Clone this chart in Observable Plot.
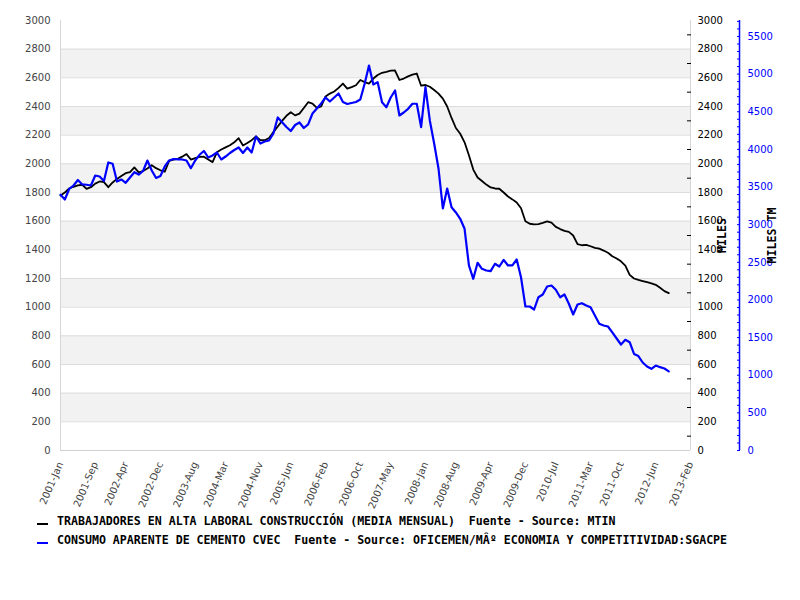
<!DOCTYPE html>
<html>
<head>
<meta charset="utf-8">
<script src="https://cdn.jsdelivr.net/npm/d3@7"></script>
<script src="https://cdn.jsdelivr.net/npm/@observablehq/plot@0.6"></script>
<style>
  body { margin: 0; background: #fff; }
  #wrap { position: relative; width: 800px; height: 600px; overflow: hidden; }
  #chart { position: absolute; left: 0; top: 0; }
  .legtxt { position: absolute; left: 57px; font: bold 11.6px "DejaVu Sans Mono", monospace; white-space: pre; color: #000; line-height: 14px; }
  .sw { position: absolute; left: 37px; width: 11px; height: 2px; }
</style>
</head>
<body>
<div id="wrap">
  <div id="chart"></div>
</div>
<script>
// ---- data ----
const startYear = 2001;
const monthNames = ["Jan","Feb","Mar","Apr","May","Jun","Jul","Aug","Sep","Oct","Nov","Dec"];
const xTickLabels = ["2001-Jan","2001-Sep","2002-Apr","2002-Dec","2003-Aug","2004-Mar","2004-Nov",
  "2005-Jun","2006-Feb","2006-Oct","2007-May","2008-Jan","2008-Aug","2009-Apr","2009-Dec",
  "2010-Jul","2011-Mar","2011-Oct","2012-Jun","2013-Feb"];

// Trabajadores en alta laboral construcción (miles), monthly from 2001-Jan
const blackSeries = [
  1779,1800,1828,1840,1849,1854,1825,1837,1862,1877,
  1872,1837,1870,1895,1915,1935,1942,1975,1940,1950,
  1968,1990,1970,1955,1945,2020,2030,2035,2050,2068,
  2030,2040,2048,2050,2030,2012,2080,2100,2115,2130,
  2150,2179,2128,2145,2165,2192,2165,2165,2180,2221,
  2260,2300,2335,2360,2338,2350,2390,2430,2420,2390,
  2400,2470,2490,2505,2530,2560,2525,2535,2548,2585,
  2570,2560,2595,2620,2635,2642,2650,2651,2585,2595,
  2610,2622,2630,2545,2550,2538,2515,2490,2455,2400,
  2320,2250,2210,2150,2060,1960,1905,1880,1855,1835,
  1828,1826,1800,1772,1752,1730,1690,1600,1582,1578,
  1580,1588,1598,1590,1560,1545,1532,1525,1500,1440,
  1432,1435,1425,1414,1408,1395,1380,1355,1340,1320,
  1290,1225,1200,1190,1182,1174,1166,1156,1135,1112,
  1098
];

// Consumo aparente de cemento (miles TM), monthly from 2001-Jan
const blueSeries = [
  3397,3334,3474,3520,3593,3534,3530,3520,3653,3640,
  3580,3826,3809,3573,3600,3556,3627,3697,3666,3713,
  3852,3720,3620,3647,3773,3852,3872,3866,3866,3852,
  3750,3852,3928,3979,3892,3919,3959,3866,3905,3952,
  3992,4025,3952,4025,3959,4171,4078,4105,4118,4211,
  4424,4361,4297,4244,4324,4357,4284,4331,4477,4543,
  4610,4689,4636,4689,4742,4630,4603,4616,4630,4663,
  4871,5114,4862,4893,4627,4560,4689,4782,4450,4490,
  4539,4606,4606,4295,4826,4384,4078,3746,3215,3480,
  3232,3162,3078,2945,2458,2281,2494,2414,2391,2382,
  2480,2444,2533,2458,2458,2537,2298,1913,1913,1873,
  2036,2072,2179,2192,2135,2036,2072,1949,1807,1939,
  1957,1926,1904,1793,1683,1661,1647,1568,1488,1408,
  1471,1439,1282,1255,1169,1116,1085,1129,1107,1089,
  1052
];

const leftTicks = [0,200,400,600,800,1000,1200,1400,1600,1800,2000,2200,2400,2600,2800,3000];
const rightMinorTicks = [100,300,500,700,900,1100,1300,1500,1700,1900,2100,2300,2500,2700,2900];
const gridTicks = [200,400,600,800,1000,1200,1400,1600,1800,2000,2200,2400,2600,2800];
const bandStarts = [200,600,1000,1400,1800,2200,2600];
const blueTicks = [0,500,1000,1500,2000,2500,3000,3500,4000,4500,5000,5500];
const blueMinorTicks = d3.range(0, 5701, 100);

const legendItems = [
  {color: "#000000", text: "TRABAJADORES EN ALTA LABORAL CONSTRUCCIÓN (MEDIA MENSUAL)  Fuente - Source: MTIN"},
  {color: "#0000ff", text: "CONSUMO APARENTE DE CEMENTO CVEC  Fuente - Source: OFICEMEN/MÂº ECONOMIA Y COMPETITIVIDAD:SGACPE"}
];
const axisTitleLeft = "MILES";
const axisTitleRight = "MILES TM";

// ---- scales / derived ----
const Y_MAX = 3000;
const BLUE_MAX = 5712;
const X_MAX = 145; // 2013-Feb
const toLeft = v => v * Y_MAX / BLUE_MAX;
const labelMonth = s => (+s.slice(0, 4) - startYear) * 12 + monthNames.indexOf(s.slice(5));
const xTickPos = xTickLabels.map(labelMonth);
const labelByPos = new Map(xTickLabels.map(s => [labelMonth(s), s]));
const plain = d => String(Math.round(d));

const blackRows = blackSeries.map((v, i) => ({m: i, v}));
const blueRows = blueSeries.map((v, i) => ({m: i, v}));

const chart = Plot.plot({
  width: 800,
  height: 500,
  marginTop: 20,
  marginBottom: 50,
  marginLeft: 60,
  marginRight: 110,
  style: {fontFamily: "'DejaVu Sans', sans-serif", fontSize: "10px", background: "transparent", overflow: "visible"},
  x: {domain: [0, X_MAX]},
  y: {domain: [0, Y_MAX]},
  marks: [
    Plot.rect(bandStarts, {y1: d => d, y2: d => d + 200, fill: "#f2f2f2"}),
    Plot.ruleY(gridTicks, {stroke: "#dcdcdc", strokeWidth: 1}),
    Plot.ruleY([0], {stroke: "#d0d0d0", strokeWidth: 1}),
    Plot.ruleX([0, X_MAX], {stroke: "#d6d6d6", strokeWidth: 1}),
    // left axis labels
    Plot.axisY(leftTicks, {anchor: "left", tickSize: 0, tickPadding: 10, fill: "#444", label: null, tickFormat: plain}),
    // right black axis
    Plot.axisY(rightMinorTicks, {anchor: "right", tickSize: 4, dx: -4, fill: "none", stroke: "#000", label: null}),
    Plot.axisY(leftTicks, {anchor: "right", tickSize: 0, tickPadding: 7, fill: "#000", label: null, tickFormat: plain}),
    // blue axis (secondary scale)
    Plot.ruleX([X_MAX], {dx: 49, stroke: "#0000ff", strokeWidth: 1.5}),
    Plot.axisY(blueMinorTicks.map(toLeft), {anchor: "right", tickSize: 3, dx: 46, fill: "none", stroke: "#0000ff", label: null}),
    Plot.axisY(blueTicks.map(toLeft), {anchor: "right", tickSize: 0, dx: 49, tickPadding: 8, fill: "#0000ff", label: null,
      tickFormat: d => plain(d * BLUE_MAX / Y_MAX)}),
    // x axis
    Plot.axisX(xTickPos, {anchor: "bottom", tickSize: 0, tickPadding: 12, tickRotate: -67, textAnchor: "end",
      fill: "#444", label: null, tickFormat: d => labelByPos.get(d)}),
    // axis titles
    Plot.text([axisTitleLeft], {frameAnchor: "right", text: d => d, rotate: -90, dx: 32, textAnchor: "middle",
      fontFamily: "'DejaVu Sans Mono', monospace", fontWeight: "bold", fontSize: 11.6, fill: "#000"}),
    Plot.text([axisTitleRight], {frameAnchor: "right", text: d => d, rotate: -90, dx: 82, textAnchor: "middle",
      fontFamily: "'DejaVu Sans Mono', monospace", fontWeight: "bold", fontSize: 11.6, fill: "#000"}),
    // series
    Plot.line(blackRows, {x: "m", y: "v", stroke: "#000", strokeWidth: 1.8}),
    Plot.line(blueRows, {x: "m", y: d => toLeft(d.v), stroke: "#0000ff", strokeWidth: 2.2})
  ]
});
document.getElementById("chart").appendChild(chart);

const wrap = document.getElementById("wrap");
legendItems.forEach((item, i) => {
  const top = 514 + i * 19;
  const sw = document.createElement("div");
  sw.className = "sw";
  sw.style.top = (top + 9) + "px";
  sw.style.background = item.color;
  wrap.appendChild(sw);
  const t = document.createElement("div");
  t.className = "legtxt";
  t.style.top = top + "px";
  t.textContent = item.text;
  wrap.appendChild(t);
});
</script>
</body>
</html>
